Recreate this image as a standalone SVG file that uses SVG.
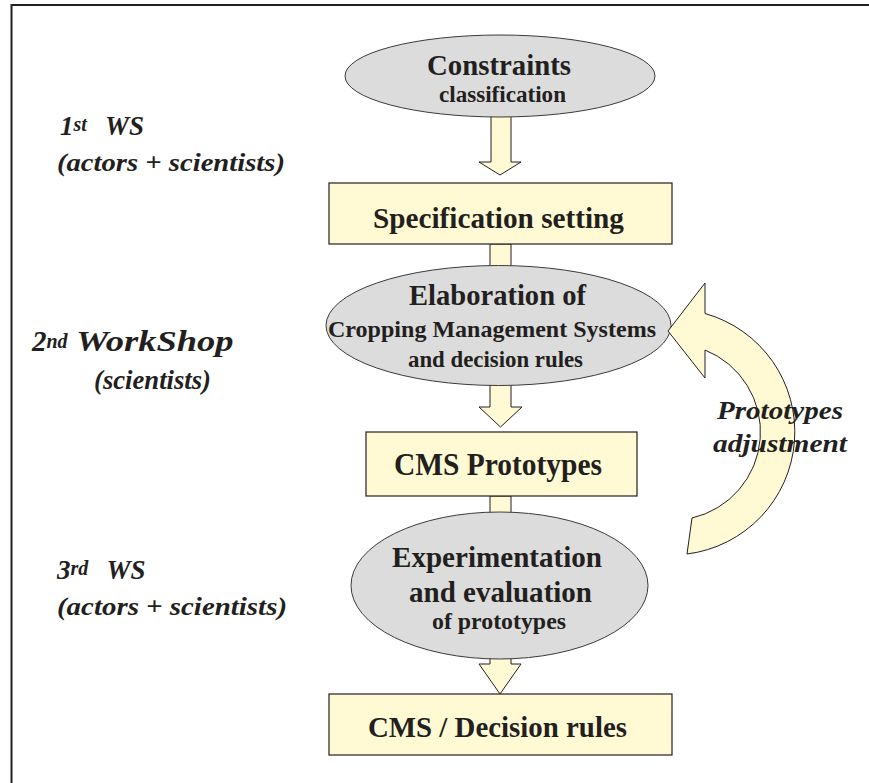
<svg xmlns="http://www.w3.org/2000/svg" width="869" height="783" viewBox="0 0 869 783">
<style>
.frame{fill:none;stroke:#231f20;stroke-width:2}
.ell{fill:#dcdcdc;stroke:#3a3a3a;stroke-width:1}
.box{fill:#fffad4;stroke:#231f20;stroke-width:1.2}
.arr{fill:#fffad4;stroke:#231f20;stroke-width:1}
.t{font-family:"Liberation Serif","Times New Roman",serif;font-weight:bold;fill:#231f20}
.i{font-family:"Liberation Serif","Times New Roman",serif;font-weight:bold;font-style:italic;fill:#231f20}
</style>
<rect x="0" y="0" width="869" height="783" fill="#ffffff"/>
<path class="frame" d="M11.5,783 V5 H869"/>

<g id="labels">
  <text class="i" font-size="27" x="60" y="135">1<tspan dy="-4" font-size="20">st</tspan><tspan dy="4" dx="12"> WS</tspan></text>
  <text class="i" font-size="26" x="57" y="171" textLength="228" lengthAdjust="spacingAndGlyphs">(actors + scientists)</text>
  <text class="i" font-size="29" x="32" y="350.5">2<tspan dy="-3" font-size="20">nd</tspan><tspan dy="3" textLength="166" lengthAdjust="spacingAndGlyphs"> WorkShop</tspan></text>
  <text class="i" font-size="27" x="94" y="389" textLength="117" lengthAdjust="spacingAndGlyphs">(scientists)</text>
  <text class="i" font-size="27" x="57" y="579">3<tspan dy="-4" font-size="20">rd</tspan><tspan dy="4" dx="12"> WS</tspan></text>
  <text class="i" font-size="26" x="57" y="615" textLength="230" lengthAdjust="spacingAndGlyphs">(actors + scientists)</text>
</g>

<g id="connectors">
  <path class="arr" d="M491,105 V162 H479 L500,175 L521,162 H511 V105 Z"/>
  <rect class="arr" x="490" y="244" width="21" height="40"/>
  <path class="arr" d="M490,370 V407 H479 L500.5,427 L522,407 H511 V370 Z"/>
  <rect class="arr" x="490" y="496" width="21" height="30"/>
  <path class="arr" d="M490,640 V664 H479 L500,694 L521,664 H511 V640 Z"/>
</g>

<g id="n-constraints">
  <ellipse class="ell" cx="500" cy="76" rx="155" ry="41"/>
  <text class="t" font-size="29" x="427" y="75" textLength="144" lengthAdjust="spacingAndGlyphs">Constraints</text>
  <text class="t" font-size="24" x="439" y="102" textLength="127" lengthAdjust="spacingAndGlyphs">classification</text>
</g>

<g id="n-specification">
  <rect class="box" x="329" y="183" width="343" height="61"/>
  <text class="t" font-size="30" x="373" y="228" textLength="251" lengthAdjust="spacingAndGlyphs">Specification setting</text>
</g>

<g id="n-elaboration">
  <ellipse class="ell" cx="498.5" cy="325.5" rx="172.5" ry="60"/>
  <text class="t" font-size="30" x="409" y="305" textLength="177" lengthAdjust="spacingAndGlyphs">Elaboration of</text>
  <text class="t" font-size="24" x="328" y="336.5" textLength="328" lengthAdjust="spacingAndGlyphs">Cropping Management Systems</text>
  <text class="t" font-size="24" x="408" y="366.5" textLength="175" lengthAdjust="spacingAndGlyphs">and decision rules</text>
</g>

<g id="n-prototypes">
  <rect class="box" x="366" y="432" width="271" height="64"/>
  <text class="t" font-size="31" x="394" y="475" textLength="208" lengthAdjust="spacingAndGlyphs">CMS Prototypes</text>
</g>

<g id="n-experimentation">
  <ellipse class="ell" cx="499.5" cy="585.5" rx="148.5" ry="73.5"/>
  <text class="t" font-size="30" x="392" y="567" textLength="210" lengthAdjust="spacingAndGlyphs">Experimentation</text>
  <text class="t" font-size="30" x="409" y="602" textLength="183" lengthAdjust="spacingAndGlyphs">and evaluation</text>
  <text class="t" font-size="24" x="432" y="629" textLength="134" lengthAdjust="spacingAndGlyphs">of prototypes</text>
</g>

<g id="n-decision">
  <rect class="box" x="329" y="694" width="343" height="61"/>
  <text class="t" font-size="30" x="368" y="737" textLength="259" lengthAdjust="spacingAndGlyphs">CMS / Decision rules</text>
</g>

<g id="n-adjustment">
  <path class="arr" d="M668,331 L705,283 L705,313.5 A123,123 0 0 1 687,554 L692,518 A88.3,88.3 0 0 0 705,350 L705,378 Z"/>
  <text class="i" font-size="26" x="717" y="419" textLength="126" lengthAdjust="spacingAndGlyphs">Prototypes</text>
  <text class="i" font-size="26" x="713" y="452" textLength="134" lengthAdjust="spacingAndGlyphs">adjustment</text>
</g>
</svg>
